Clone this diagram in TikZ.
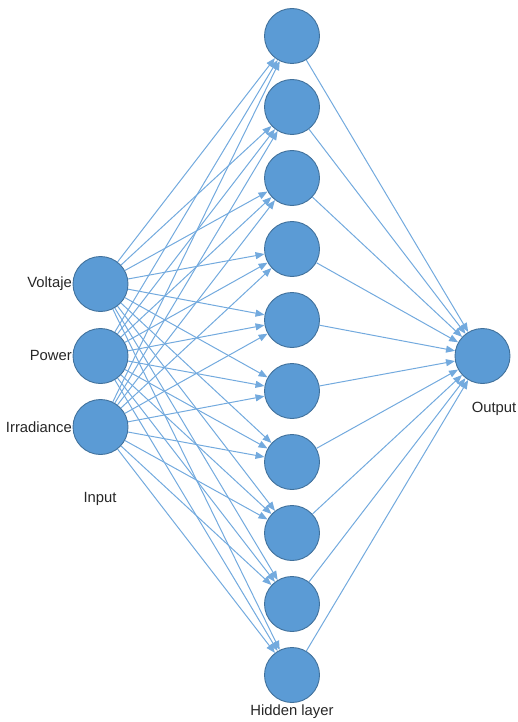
\documentclass[tikz,border=0pt]{standalone}
\usepackage{fontspec}
\setmainfont{Liberation Sans}
\usetikzlibrary{arrows.meta}
\definecolor{nodefill}{RGB}{91,155,213}
\definecolor{nodeedge}{RGB}{65,113,156}
\definecolor{linkcol}{RGB}{115,170,222}
\tikzset{
  neuron/.style={circle, fill=nodefill, draw=nodeedge, line width=0.9pt, minimum size=55pt, inner sep=0pt},
  link/.style={draw=linkcol, line width=1pt, -{Triangle[length=9pt,width=7pt]}},
  lbl/.style={font=\fontsize{14.8}{17}\selectfont, inner sep=0pt, text=black!85}
}
\begin{document}
\begin{tikzpicture}[x=1pt,y=-1pt]
\useasboundingbox (0,0) rectangle (518,722);
% input layer
\node[neuron] (i1) at (100.5,284) {};
\node[neuron] (i2) at (100.5,356) {};
\node[neuron] (i3) at (100.5,427) {};
% hidden layer
\foreach \k in {1,...,10} {
  \node[neuron] (h\k) at (292,{36+71*(\k-1)}) {};
}
% output layer
\node[neuron] (o) at (482.5,356) {};
% connections: every input to every hidden unit
\foreach \i in {1,2,3} {
  \foreach \k in {1,...,10} {
    \draw[link] (i\i) -- (h\k);
  }
}
% every hidden unit to the output
\foreach \k in {1,...,10} {
  \draw[link] (h\k) -- (o);
}
% labels
\node[lbl, anchor=east] (lv) at (72,284) {Voltaje};
\node[lbl, anchor=east] (lp) at (72,355) {Power};
\node[lbl, anchor=east] (lr) at (72,427) {Irradiance};
\node[lbl] (li) at (100,499) {Input};
\node[lbl] (lh) at (292,712) {Hidden layer};
\node[lbl] (lo) at (494,409) {Output};
\end{tikzpicture}
\end{document}
